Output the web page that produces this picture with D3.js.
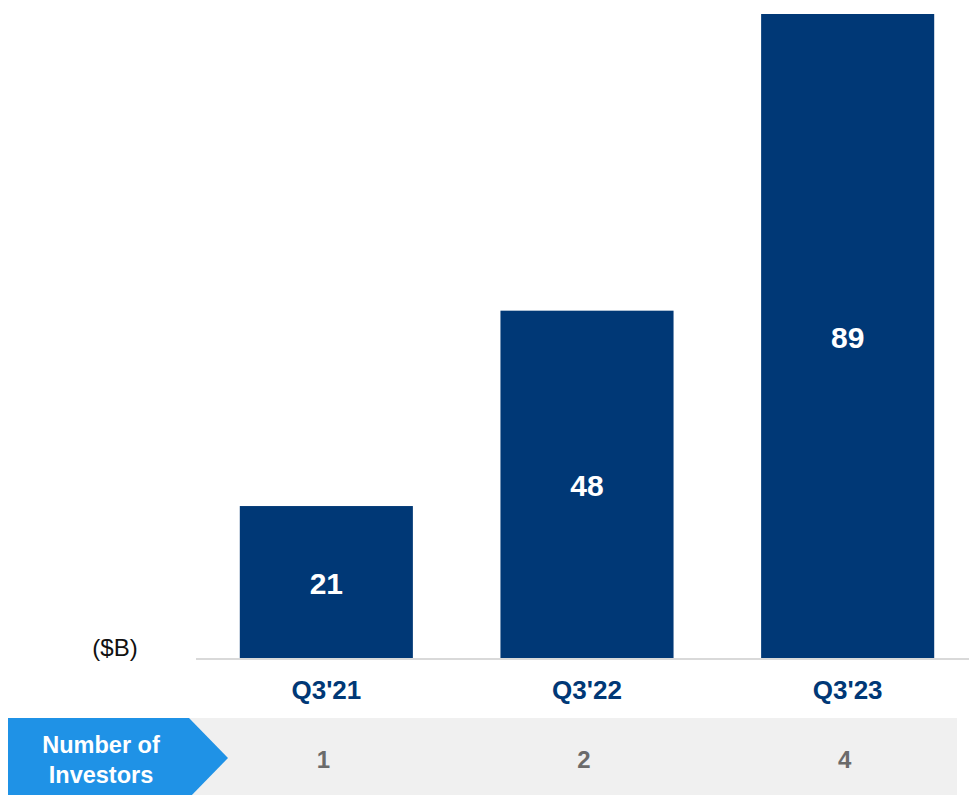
<!DOCTYPE html>
<html>
<head>
<meta charset="utf-8">
<script src="https://cdn.jsdelivr.net/npm/d3@7"></script>
<style>
  body { margin: 0; background: #fff; }
  svg { display: block; font-family: "Liberation Sans", Arial, sans-serif; }
</style>
</head>
<body>
<svg id="chart"></svg>
<script>
// quarters, assets in $B, and investor counts under each bar
const quarters = ["Q3'21", "Q3'22", "Q3'23"];
const assets = [21, 48, 89];
const investors = [1, 2, 4];

const W = 969, H = 795;
const barColor = "#003876";

const svg = d3.select("#chart")
    .attr("width", W)
    .attr("height", H);

const x = d3.scaleBand()
    .domain(quarters)
    .range([196, 978])
    .paddingInner(0.336)
    .paddingOuter(0.168);

const y = d3.scaleLinear()
    .domain([0, 89])
    .range([658, 14]);

// bars
svg.selectAll("rect.bar")
    .data(assets)
    .enter()
    .append("rect")
    .attr("class", "bar")
    .attr("x", (d, i) => x(quarters[i]))
    .attr("y", d => y(d))
    .attr("width", x.bandwidth())
    .attr("height", d => y(0) - y(d))
    .attr("fill", barColor);

// value labels, centred in each bar
svg.selectAll("text.val")
    .data(assets)
    .enter()
    .append("text")
    .attr("class", "val")
    .attr("x", (d, i) => x(quarters[i]) + x.bandwidth() / 2)
    .attr("y", d => (y(d) + y(0)) / 2 + 12)
    .attr("text-anchor", "middle")
    .attr("font-size", "30px")
    .attr("font-weight", "bold")
    .attr("fill", "#fff")
    .text(d => d);

// baseline
svg.append("line")
    .attr("x1", 196)
    .attr("x2", W)
    .attr("y1", y(0) + 1)
    .attr("y2", y(0) + 1)
    .attr("stroke", "#d9d9d9")
    .attr("stroke-width", 2);

// category axis, no line or ticks
const xAxis = svg.append("g")
    .attr("transform", `translate(0, ${y(0)})`)
    .call(d3.axisBottom(x).tickSize(0).tickPadding(0));
xAxis.select(".domain").remove();
xAxis.selectAll("text")
    .attr("y", 41)
    .attr("dy", null)
    .attr("font-family", "\"Liberation Sans\", Arial, sans-serif")
    .attr("font-size", "26px")
    .attr("font-weight", "bold")
    .attr("fill", barColor);

// unit label
svg.append("text")
    .attr("x", 115)
    .attr("y", 656)
    .attr("text-anchor", "middle")
    .attr("font-size", "24px")
    .attr("fill", "#111")
    .text("($B)");

// investor row
svg.append("rect")
    .attr("x", 8)
    .attr("y", 718)
    .attr("width", 949)
    .attr("height", H - 718)
    .attr("fill", "#f0f0f0");

svg.append("path")
    .attr("d", "M8,718 L189,718 L228,758 L189,798 L8,798 Z")
    .attr("fill", "#1f92e6");

svg.append("text")
    .attr("x", 101)
    .attr("y", 753)
    .attr("text-anchor", "middle")
    .attr("font-size", "23.5px")
    .attr("font-weight", "bold")
    .attr("fill", "#fff")
    .text("Number of");
svg.append("text")
    .attr("x", 101)
    .attr("y", 783)
    .attr("text-anchor", "middle")
    .attr("font-size", "23.5px")
    .attr("font-weight", "bold")
    .attr("fill", "#fff")
    .text("Investors");

svg.selectAll("text.inv")
    .data(investors)
    .enter()
    .append("text")
    .attr("class", "inv")
    .attr("x", (d, i) => x(quarters[i]) + x.bandwidth() / 2 - 3)
    .attr("y", 768)
    .attr("text-anchor", "middle")
    .attr("font-size", "24px")
    .attr("font-weight", "bold")
    .attr("fill", "#6b6b6b")
    .text(d => d);
</script>
</body>
</html>
